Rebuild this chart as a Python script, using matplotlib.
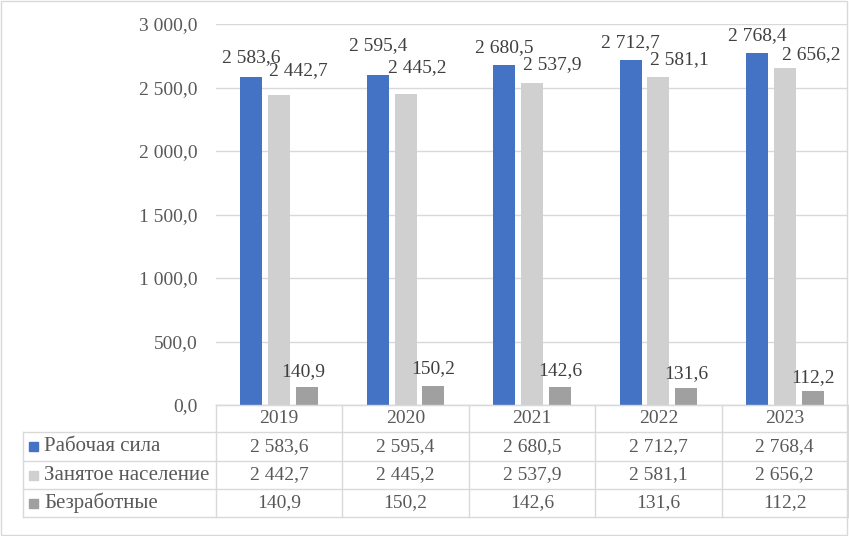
import matplotlib.pyplot as plt
from matplotlib.patches import Rectangle
from matplotlib.transforms import blended_transform_factory
import numpy as np

plt.rcParams['font.family'] = ['Liberation Serif', 'DejaVu Serif']

# Data
years = ['2019', '2020', '2021', '2022', '2023']
series_names = ['Рабочая сила', 'Занятое население', 'Безработные']
labour_force = [2583.6, 2595.4, 2680.5, 2712.7, 2768.4]
employed = [2442.7, 2445.2, 2537.9, 2581.1, 2656.2]
unemployed = [140.9, 150.2, 142.6, 131.6, 112.2]
series = [labour_force, employed, unemployed]
colors = ['#4472C4', '#D0D0D0', '#A0A0A0']

# label offsets (pixels: dx, dy above bar top), Excel shuffled them to avoid overlap
label_offsets = [
    [(0, 19), (0, 30), (0, 17), (0, 18), (0, 18)],
    [(19, 24), (12, 27), (20, 18), (21, 18), (27, 13)],
    [(-4, 16), (0, 17), (0, 16), (0, 15), (0, 13)],
]

W, H = 849, 536
text_color = '#595959'
grid_color = '#D9D9D9'
fs = 14


def fmt(v):
    return f'{v:,.1f}'.replace(',', ' ').replace('.', ',')


fig = plt.figure(figsize=(W / 100, H / 100), dpi=100)
left, right, top, bottom = 216, 848, 24, 405
ax = fig.add_axes([left / W, 1 - bottom / H, (right - left) / W, (bottom - top) / H])

x = np.arange(len(years))
width = 0.175
step = 0.22
for i, vals in enumerate(series):
    xs = x + (i - 1) * step
    ax.bar(xs, vals, width, color=colors[i], zorder=3)
    for j, v in enumerate(vals):
        dx, dy = label_offsets[i][j]
        ax.annotate(fmt(v), (xs[j], v), xytext=(dx * 0.72, dy * 0.72),
                    textcoords='offset points', ha='center', va='center',
                    fontsize=fs, color='#404040', zorder=4)

ax.set_xlim(-0.5, len(years) - 0.5)
ax.set_ylim(0, 3000)
ax.set_yticks(np.arange(0, 3001, 500))
ax.set_yticklabels([fmt(v) for v in np.arange(0, 3001, 500)], fontsize=fs, color=text_color)
ax.tick_params(axis='y', length=0, pad=13.5)
ax.set_xticks([])
ax.grid(axis='y', color=grid_color, linewidth=1, zorder=0)
for s in ['left', 'right', 'top']:
    ax.spines[s].set_visible(False)
ax.spines['bottom'].set_color(grid_color)

# data table under the plot
def fy(yp):
    return 1 - yp / H

row_lines = [405, 432, 461, 489, 517]
table_left = 23
trans = blended_transform_factory(ax.transData, fig.transFigure)
for k, yp in enumerate(row_lines):
    x0 = left if k == 0 else table_left
    fig.add_artist(plt.Line2D([x0 / W, right / W], [fy(yp), fy(yp)],
                              transform=fig.transFigure, color=grid_color, lw=1))
for b in np.arange(-0.5, len(years), 1.0):
    ax.add_line(plt.Line2D([b, b], [fy(row_lines[0]), fy(row_lines[-1])],
                           transform=trans, color=grid_color, lw=1, clip_on=False))
fig.add_artist(plt.Line2D([table_left / W] * 2, [fy(row_lines[1]), fy(row_lines[-1])],
                          transform=fig.transFigure, color=grid_color, lw=1))

for j, yr in enumerate(years):
    ax.text(x[j], fy((row_lines[0] + row_lines[1]) / 2), yr, transform=trans,
            ha='center', va='center', fontsize=fs, color=text_color)
for i, name in enumerate(series_names):
    yc = (row_lines[i + 1] + row_lines[i + 2]) / 2
    fig.add_artist(Rectangle((29 / W, fy(yc + 4.5)), 9 / W, 9 / H,
                             transform=fig.transFigure, color=colors[i]))
    fig.text(44 / W, fy(yc), name, ha='left', va='center', fontsize=15, color=text_color)
    for j, v in enumerate(series[i]):
        ax.text(x[j], fy(yc), fmt(v), transform=trans, ha='center', va='center',
                fontsize=fs, color=text_color)

# chart border
fig.add_artist(Rectangle((1 / W, 1 / H), 846 / W, 534 / H, transform=fig.transFigure,
                         fill=False, edgecolor=grid_color, lw=1))

fig.savefig('out.png', dpi=100)
